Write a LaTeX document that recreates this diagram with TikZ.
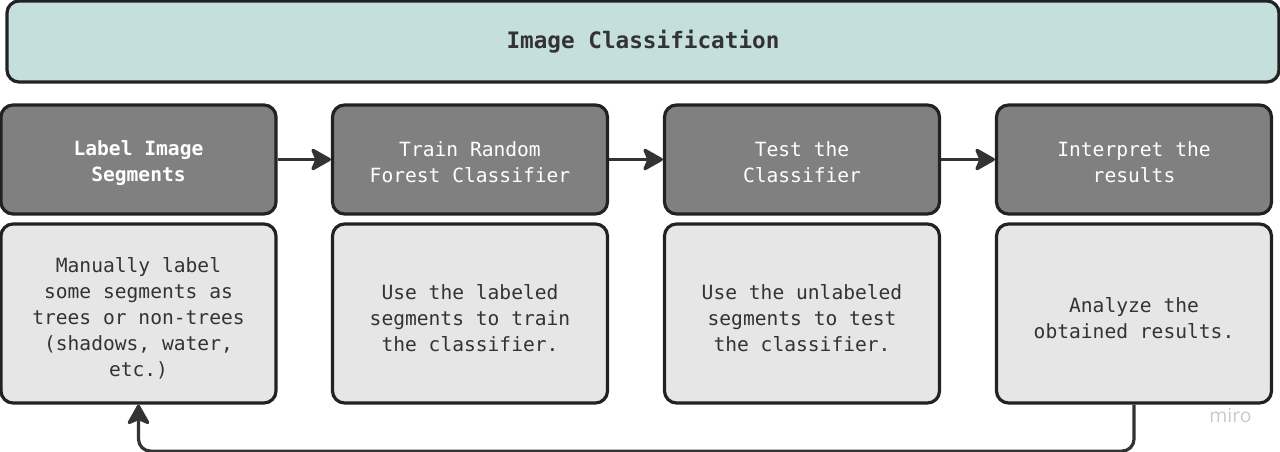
\documentclass[tikz,border=0pt]{standalone}
\usepackage{fontspec}
\setmonofont{DejaVu Sans Mono}
\newfontfamily\wmfont{Open Sans}
\usetikzlibrary{arrows.meta}
\definecolor{banner}{HTML}{C5E0DC}
\definecolor{darkfill}{HTML}{808080}
\definecolor{lightfill}{HTML}{E6E6E6}
\definecolor{edge}{HTML}{222222}
\definecolor{txt}{HTML}{333333}
\definecolor{wm}{HTML}{C8C8D6}
\newcommand\dkup{\rule{0pt}{15.8pt}}
\newcommand\ltup{\rule{0pt}{18.6pt}}
\tikzset{
  box/.style={draw=edge, line width=2.4pt, rounded corners=9pt, align=center, inner sep=0pt},
  titlebox/.style={box, fill=banner, minimum width=954pt, minimum height=60.75pt,
    font=\ttfamily\bfseries\fontsize{17}{21}\selectfont, text=txt},
  darkbox/.style={box, fill=darkfill, minimum width=206.25pt, minimum height=81.75pt,
    font=\ttfamily\fontsize{14.7}{19.5}\selectfont, text=white},
  lightbox/.style={box, fill=lightfill, minimum width=206.25pt, minimum height=134.25pt,
    font=\ttfamily\fontsize{14.7}{19.5}\selectfont, text=txt},
  arr/.style={draw=txt, line width=2.4pt, -{Stealth[length=17pt,width=19pt,inset=4pt,round]}},
}
\begin{document}
\begin{tikzpicture}[x=0.75pt,y=-0.75pt]
\useasboundingbox (0,0) rectangle (1280,452);
\node[titlebox] (t) at (643,41.5) {\rule{0pt}{13.5pt}Image Classification};
\node[darkbox] (d1) at (138.5,159.5) {\dkup\bfseries Label Image\\\bfseries Segments};
\node[darkbox] (d2) at (470,159.5) {\dkup Train Random\\Forest Classifier};
\node[darkbox] (d3) at (802,159.5) {\dkup Test the\\Classifier};
\node[darkbox] (d4) at (1134,159.5) {\dkup Interpret the\\results};
\node[lightbox] (l1) at (138.5,313.5) {\ltup Manually label\\some segments as\\trees or non-trees\\(shadows, water,\\etc.)};
\node[lightbox] (l2) at (470,313.5) {\ltup Use the labeled\\segments to train\\the classifier.};
\node[lightbox] (l3) at (802,313.5) {\ltup Use the unlabeled\\segments to test\\the classifier.};
\node[lightbox] (l4) at (1134,313.5) {\ltup Analyze the\\obtained results.};
\draw[arr] (d1) -- (d2);
\draw[arr] (d2) -- (d3);
\draw[arr] (d3) -- (d4);
\draw[arr, rounded corners=9pt] (l4.south) -- ++(0,46.5) -| (l1.south);
\node[text=wm, font=\wmfont\fontsize{14.5}{17}\selectfont, anchor=center] (wmk) at (1230.5,415) {miro};
\end{tikzpicture}
\end{document}
